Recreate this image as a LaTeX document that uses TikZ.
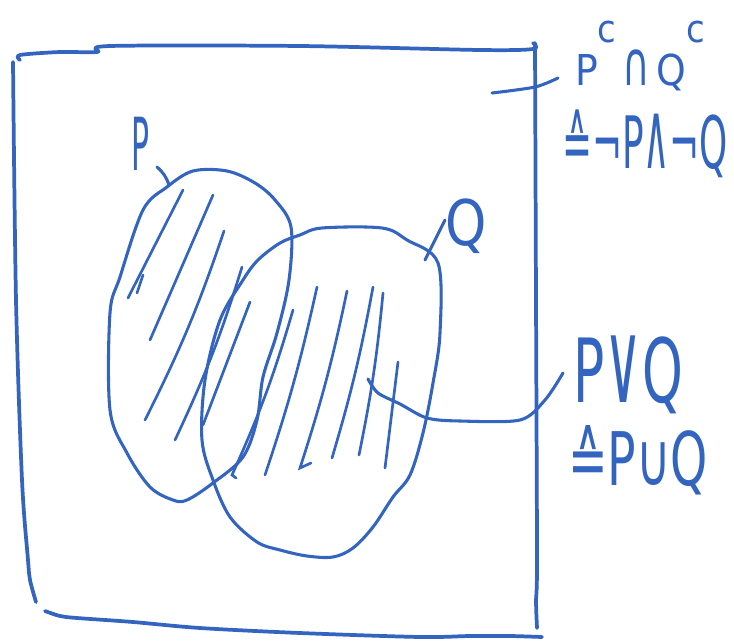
\documentclass[tikz,border=0pt]{standalone}
\usepackage{graphicx}
\usepackage{fontspec}
\setmainfont{DejaVu Sans}
\definecolor{ink}{RGB}{50,100,192}
\newcommand{\tallop}[2]{\scalebox{1}[#1]{#2}}
\begin{document}
\begin{tikzpicture}[x=0.75pt,y=-0.75pt,
  pen/.style={draw=ink,line width=2.3pt,line cap=round,line join=round},
  framepen/.style={draw=ink,line width=2.8pt,line cap=round,line join=round},
  hatch/.style={draw=ink,line width=2pt,line cap=round},
  lbl/.style={inner sep=0pt,outer sep=0pt,text=ink,anchor=base west}]
\useasboundingbox (0,0) rectangle (734,642);
% frame
\draw[framepen] plot[smooth,tension=0.5] coordinates {(20,60)(20,55)(60,52)(97,52)(110,46)(300,46)(480,50)(533,49)(533,43)};
\draw[framepen] plot[smooth,tension=0.5] coordinates {(535,43)(536,300)(537,560)(536,600)(537,628)};
\draw[framepen] plot[smooth,tension=0.5] coordinates {(13,62)(16,300)(22,480)(28,560)(30,580)(36,602)};
\draw[framepen] plot[smooth,tension=0.5] coordinates {(45,611)(60,616)(77,618)(133,622)(200,628)(300,633)(420,637)(470,636)(510,636)(542,637)};
% set P
\draw[pen] plot[smooth cycle,tension=0.55] coordinates {(193,171)(227,171)(255,183)(275,200)(291,227)(289,280)(277,333)(263,377)(257,420)(243,457)(213,483)(187,500)(173,500)(150,487)(127,453)(110,410)(110,313)(120,277)(143,210)(167,187)};
% set Q
\draw[pen] plot[smooth cycle,tension=0.55] coordinates {(322,228)(382,228)(407,240)(438,263)(440,333)(433,383)(423,433)(410,475)(393,497)(373,527)(353,548)(333,557)(307,556)(280,550)(257,542)(230,517)(213,480)(202,440)(205,380)(220,320)(243,280)(258,260)(280,243)(300,235)};
% hatching
\draw[hatch] (183,190) -- (128,298);
\draw[hatch] (143,275) -- (137,293);
\draw[hatch] (213,195) -- (150,340);
\draw[hatch] (224,231) to[bend left=4] (145,420);
\draw[hatch] (242,267) to[bend left=4] (175,440);
\draw[hatch] (250,302) -- (203,425);
\draw[hatch] (293,310) to[bend left=4] (232,475) -- (236,478);
\draw[hatch] (317,287) to[bend left=3] (265,475);
\draw[hatch] (347,291) to[bend left=3] (300,468) -- (311,463);
\draw[hatch] (373,287) to[bend left=3] (332,458);
\draw[hatch] (383,293) to[bend left=3] (359,455);
\draw[hatch] (398,362) -- (385,468);
% labels
\node[lbl] (lP) at (131,170) {\resizebox{13.5pt}{40pt}{P}};
\node[lbl] (lQ) at (445,245) {\resizebox{31pt}{35pt}{Q}};
\node[lbl] (t1) at (575,85) {\resizebox{97.5pt}{48pt}{P\raisebox{1.0em}{\small c}\,\tallop{1.45}{∩}\,Q\raisebox{1.0em}{\small c}}};
\node[lbl] (t2) at (562,168) {\resizebox{124.5pt}{44pt}{≙¬P\tallop{1.3}{∧}¬Q}};
\node[lbl] (t3) at (573,402) {\resizebox{82.5pt}{50pt}{P\tallop{1.3}{∨}Q}};
\node[lbl] (t4) at (568,485) {\resizebox{105pt}{45pt}{≙P∪Q}};
% pointer ticks
\coordinate (pa) at (157,167); \coordinate (pb) at (169,185);
\draw[pen] (pa) to[bend left=15] (pb);
\coordinate (qa) at (425,260); \coordinate (qb) at (445,220);
\draw[pen] (qa) -- (qb);
% connector to complement label
\coordinate (ca) at (492,93); \coordinate (cm) at (535,87); \coordinate (cb) at (558,78);
\draw[pen] plot[smooth,tension=0.5] coordinates {(ca)(cm)(cb)};
% connector to union label
\coordinate (ua) at (368,379); \coordinate (ub) at (563,373);
\draw[pen] plot[smooth,tension=0.5] coordinates {(ua)(378,393)(400,404)(427,418)(460,421)(520,420)(545,400)(ub)};
\end{tikzpicture}
\end{document}
